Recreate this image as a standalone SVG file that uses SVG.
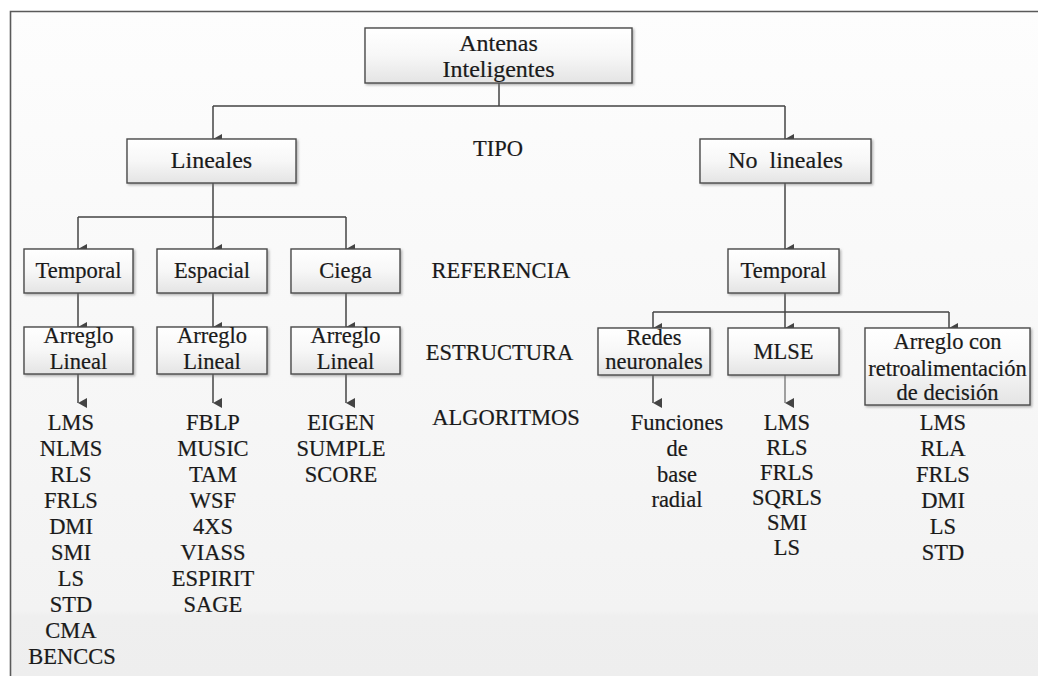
<svg xmlns="http://www.w3.org/2000/svg" width="1038" height="676" viewBox="0 0 1038 676">
  <defs>
    <linearGradient id="bg" x1="0" y1="0" x2="0" y2="1">
      <stop offset="0" stop-color="#fdfdfd"/>
      <stop offset="0.9" stop-color="#f3f3f3"/>
      <stop offset="0.91" stop-color="#efefef"/>
      <stop offset="1" stop-color="#eeeeee"/>
    </linearGradient>
    <linearGradient id="boxfill" x1="0" y1="0" x2="0" y2="1">
      <stop offset="0" stop-color="#ffffff"/>
      <stop offset="0.5" stop-color="#f7f7f7"/>
      <stop offset="1" stop-color="#e4e4e4"/>
    </linearGradient>
    <filter id="shadow" x="-10%" y="-10%" width="130%" height="140%">
      <feDropShadow dx="1.5" dy="1.5" stdDeviation="0.8" flood-color="#777" flood-opacity="0.55"/>
    </filter>
    <marker id="arrow" viewBox="0 0 10 9" refX="5" refY="9" markerWidth="10" markerHeight="9" markerUnits="userSpaceOnUse" orient="auto-start-reverse">
      <path d="M0,0 L10,0 L5,9 Z" fill="#444"/>
    </marker>
  </defs>
  <style>
    text { font-family: "Liberation Serif", "Times New Roman", serif; font-size: 22.5px; fill: #1a1a1a; stroke: #1a1a1a; stroke-width: 0.2; text-anchor: middle; }
    .big { font-size: 24px; }
    .box { fill: url(#boxfill); stroke: #4a4a4a; stroke-width: 1.4; filter: url(#shadow); }
    .wire { fill: none; stroke: #444; stroke-width: 1.5; }
    .arr { marker-end: url(#arrow); }
    .soft { stroke: #666; stroke-width: 1.2; }
  </style>

  <!-- page background and frame -->
  <rect x="0" y="0" width="1038" height="676" fill="#ffffff"/>
  <rect x="10" y="11" width="1028" height="665" fill="url(#bg)"/>
  <path d="M10.5,676 V11.5 H1038" fill="none" stroke="#5a5a5a" stroke-width="1.6"/>

  <!-- connectors -->
  <g id="connectors">
    <path class="wire" d="M499,83 V106 M213,106 H785"/>
    <path class="wire arr" d="M213,106 V139"/>
    <path class="wire arr" d="M785,106 V139"/>

    <path class="wire" d="M213,183 V217 M78,217 H346"/>
    <path class="wire arr" d="M78,217 V249"/>
    <path class="wire arr" d="M213,217 V249"/>
    <path class="wire arr" d="M346,217 V249"/>

    <path class="wire arr" d="M78,293 V327"/>
    <path class="wire arr" d="M213,293 V327"/>
    <path class="wire arr" d="M346,293 V327"/>

    <path class="wire arr" d="M78,374 V403"/>
    <path class="wire arr" d="M213,374 V403"/>
    <path class="wire arr" d="M346,374 V403"/>

    <path class="wire arr" d="M785,183 V249"/>
    <path class="wire" d="M785,293 V312 M653,312 H949"/>
    <path class="wire arr" d="M653,312 V328"/>
    <path class="wire arr" d="M785,312 V328"/>
    <path class="wire arr" d="M949,312 V328"/>

    <path class="wire arr" d="M653,375 V403"/>
    <path class="wire soft arr" d="M785,375 V403"/>
  </g>

  <!-- root -->
  <g id="antenas">
    <rect class="box" x="365" y="28" width="267" height="55"/>
    <text class="big" x="498.5" y="51">Antenas</text>
    <text class="big" x="498.5" y="77">Inteligentes</text>
  </g>

  <!-- type -->
  <g id="lineales">
    <rect class="box" x="127" y="139" width="169" height="44"/>
    <text class="big" x="211.5" y="168">Lineales</text>
  </g>
  <g id="no-lineales">
    <rect class="box" x="700" y="139" width="171" height="44"/>
    <text class="big" x="785.5" y="168" xml:space="preserve">No  lineales</text>
  </g>

  <!-- reference -->
  <g id="temporal-lin">
    <rect class="box" x="24" y="249" width="109" height="44"/>
    <text x="78.5" y="278">Temporal</text>
  </g>
  <g id="espacial">
    <rect class="box" x="157" y="249" width="110" height="44"/>
    <text x="212" y="278">Espacial</text>
  </g>
  <g id="ciega">
    <rect class="box" x="291" y="249" width="109" height="44"/>
    <text x="345.5" y="278">Ciega</text>
  </g>
  <g id="temporal-nolin">
    <rect class="box" x="728" y="249" width="111" height="44"/>
    <text x="783.5" y="278">Temporal</text>
  </g>

  <!-- structure -->
  <g id="arreglo-temporal">
    <rect class="box" x="24" y="327" width="109" height="47"/>
    <text x="78.5" y="343">Arreglo</text>
    <text x="78.5" y="369">Lineal</text>
  </g>
  <g id="arreglo-espacial">
    <rect class="box" x="157" y="327" width="110" height="47"/>
    <text x="212" y="343">Arreglo</text>
    <text x="212" y="369">Lineal</text>
  </g>
  <g id="arreglo-ciega">
    <rect class="box" x="291" y="327" width="109" height="47"/>
    <text x="345.5" y="343">Arreglo</text>
    <text x="345.5" y="369">Lineal</text>
  </g>
  <g id="redes">
    <rect class="box" x="598" y="328" width="112" height="47"/>
    <text x="654" y="345">Redes</text>
    <text x="654" y="369">neuronales</text>
  </g>
  <g id="mlse">
    <rect class="box" x="728" y="328" width="111" height="47"/>
    <text x="783.5" y="359">MLSE</text>
  </g>
  <g id="arreglo-retro">
    <rect class="box" x="865" y="328" width="165" height="77"/>
    <text x="947.5" y="349">Arreglo con</text>
    <text x="947.5" y="376">retroalimentación</text>
    <text x="947.5" y="400">de decisión</text>
  </g>

  <!-- level labels -->
  <g id="niveles">
    <text x="498" y="156">TIPO</text>
    <text x="501" y="278">REFERENCIA</text>
    <text x="499.5" y="360">ESTRUCTURA</text>
    <text x="506" y="425">ALGORITMOS</text>
  </g>

  <!-- algorithm lists -->
  <g id="alg-temporal">
    <text x="71" y="430">LMS</text>
    <text x="71" y="456">NLMS</text>
    <text x="71" y="482">RLS</text>
    <text x="71" y="508">FRLS</text>
    <text x="71" y="534">DMI</text>
    <text x="71" y="560">SMI</text>
    <text x="71" y="586">LS</text>
    <text x="71" y="612">STD</text>
    <text x="71" y="638">CMA</text>
    <text x="72" y="664">BENCCS</text>
  </g>
  <g id="alg-espacial">
    <text x="213" y="430">FBLP</text>
    <text x="213" y="456">MUSIC</text>
    <text x="213" y="482">TAM</text>
    <text x="213" y="508">WSF</text>
    <text x="213" y="534">4XS</text>
    <text x="213" y="560">VIASS</text>
    <text x="213" y="586">ESPIRIT</text>
    <text x="213" y="612">SAGE</text>
  </g>
  <g id="alg-ciega">
    <text x="341" y="430">EIGEN</text>
    <text x="341" y="456">SUMPLE</text>
    <text x="341" y="482">SCORE</text>
  </g>
  <g id="alg-redes">
    <text x="677" y="430">Funciones</text>
    <text x="677" y="456">de</text>
    <text x="677" y="482">base</text>
    <text x="677" y="507">radial</text>
  </g>
  <g id="alg-mlse">
    <text x="787" y="430">LMS</text>
    <text x="787" y="455">RLS</text>
    <text x="787" y="480">FRLS</text>
    <text x="787" y="505">SQRLS</text>
    <text x="787" y="530">SMI</text>
    <text x="787" y="555">LS</text>
  </g>
  <g id="alg-retro">
    <text x="943" y="430">LMS</text>
    <text x="943" y="456">RLA</text>
    <text x="943" y="482">FRLS</text>
    <text x="943" y="508">DMI</text>
    <text x="943" y="534">LS</text>
    <text x="943" y="560">STD</text>
  </g>
</svg>
